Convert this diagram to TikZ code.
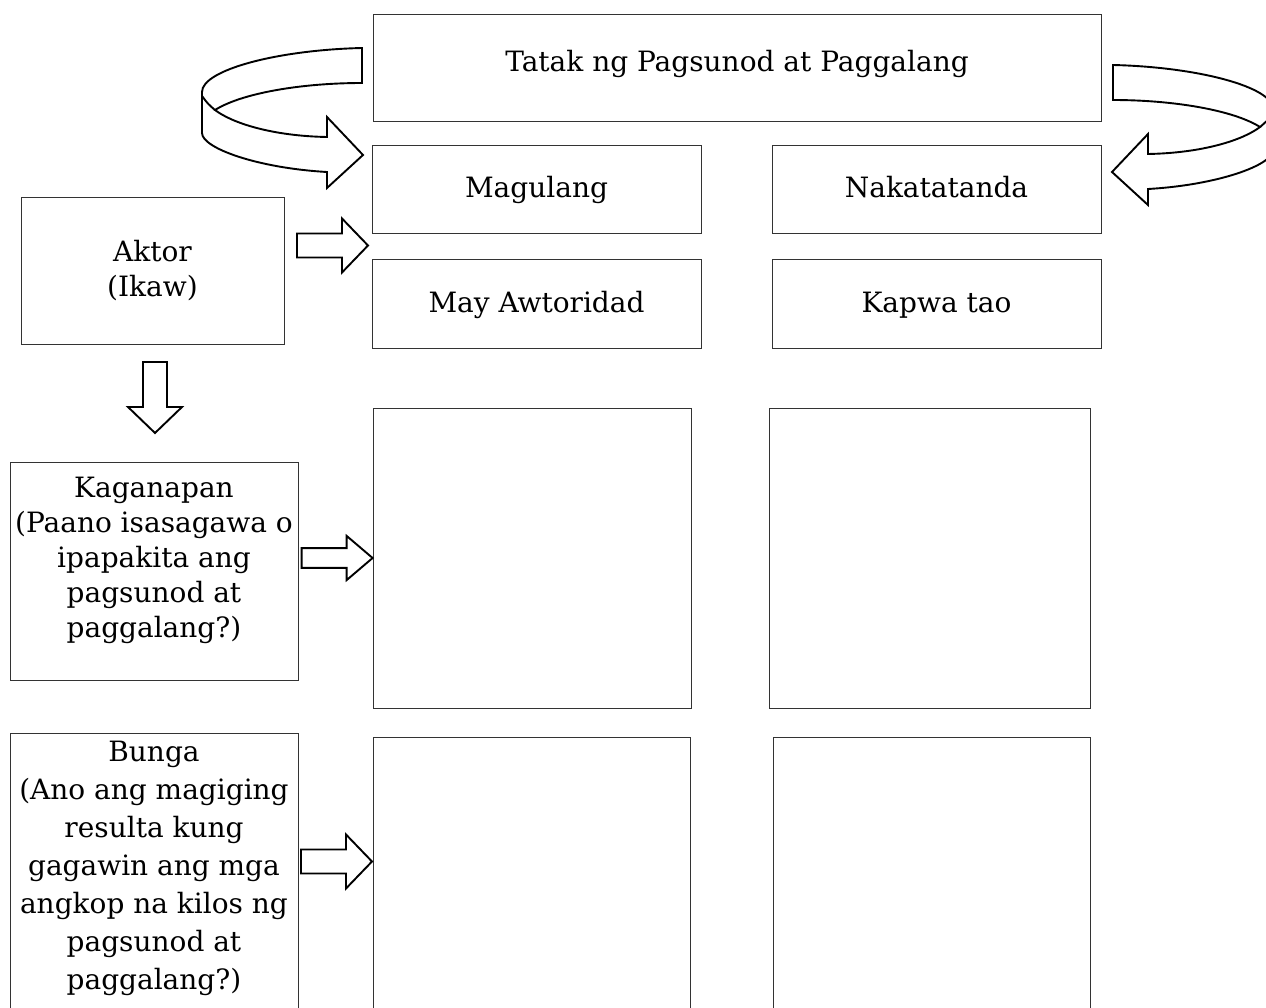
\documentclass[tikz,border=0pt]{standalone}
\usepackage{fontspec}
\setmainfont{DejaVu Serif}

\tikzset{
  curlarrow/.pic={
    \filldraw[fill=white] (0,35) -- (0,0)
      .. controls (-85,2) and (-160,22) .. (-160,44) -- (-160,85)
      .. controls (-160,100) and (-105,120) .. (-35,124)
      -- (-35,140) -- (1,107) -- (-35,69) -- (-35,89)
      .. controls (-90,88) and (-130,75) .. (-147,62)
      .. controls (-120,45) and (-60,35) .. cycle;
    \draw (-147,62) .. controls (-154,56) .. (-160,48);
  },
  blockarrow/.pic={
    \filldraw[fill=white] (0,0) -- (-26,27) -- (-26,12) -- (-71,12)
      -- (-71,-12) -- (-26,-12) -- (-26,-27) -- cycle;
  }
}

\begin{document}
\begin{tikzpicture}[x=1pt, y=-1pt,
  box/.style={draw=black!80, line width=0.8pt, inner sep=0pt, align=center,
    font=\fontsize{28}{35}\selectfont},
  oneline/.style={text height=20pt, text depth=2pt},
  arrowline/.style={line width=1.9pt, line join=miter}]
\useasboundingbox (0,0) rectangle (1266,1008);
\clip (0,0) rectangle (1266,1008);

% top row
\node[box, oneline, text depth=12pt, minimum width=728pt, minimum height=107pt] (tatak) at (737,68) {Tatak ng Pagsunod at Paggalang};
\node[box, oneline, minimum width=329pt, minimum height=88pt] (magulang) at (536.5,189) {Magulang};
\node[box, oneline, minimum width=329pt, minimum height=88pt] (nakatatanda) at (936.5,189) {Nakatatanda};
\node[box, oneline, minimum width=329pt, minimum height=89pt] (awtoridad) at (536.5,303.5) {May Awtoridad};
\node[box, oneline, minimum width=329pt, minimum height=89pt] (kapwa) at (936.5,303.5) {Kapwa tao};

% left column
\node[box, minimum width=263pt, minimum height=147pt] (aktor) at (152.5,270.5) {Aktor\\(Ikaw)};
\node[box, text depth=27pt, minimum width=288pt, minimum height=218pt] (kaganapan) at (154,571) {Kaganapan\\(Paano isasagawa o\\ipapakita ang\\pagsunod at\\paggalang?)};
\node[box, font=\fontsize{28}{38}\selectfont, text depth=14pt, minimum width=288pt, minimum height=279pt] (bunga) at (154,872.5) {Bunga\\(Ano ang magiging\\resulta kung\\gagawin ang mga\\angkop na kilos ng\\pagsunod at\\paggalang?)};

% empty boxes
\node[box, minimum width=318pt, minimum height=300pt] (kagA) at (532,558) {};
\node[box, minimum width=321pt, minimum height=300pt] (kagB) at (929.5,558) {};
\node[box, minimum width=317pt, minimum height=283pt] (bungaA) at (531.5,878.5) {};
\node[box, minimum width=317pt, minimum height=283pt] (bungaB) at (931.5,878.5) {};

% arrows
\pic[arrowline] at (362,48) {curlarrow};
\pic[arrowline, xscale=-1] at (1113,65) {curlarrow};
\pic[arrowline] at (368,245.5) {blockarrow};
\pic[arrowline, rotate=-90] at (155,433) {blockarrow};
\pic[arrowline, yscale=0.82] at (kagA.west) {blockarrow};
\pic[arrowline] at (372,861.5) {blockarrow};
\end{tikzpicture}
\end{document}
